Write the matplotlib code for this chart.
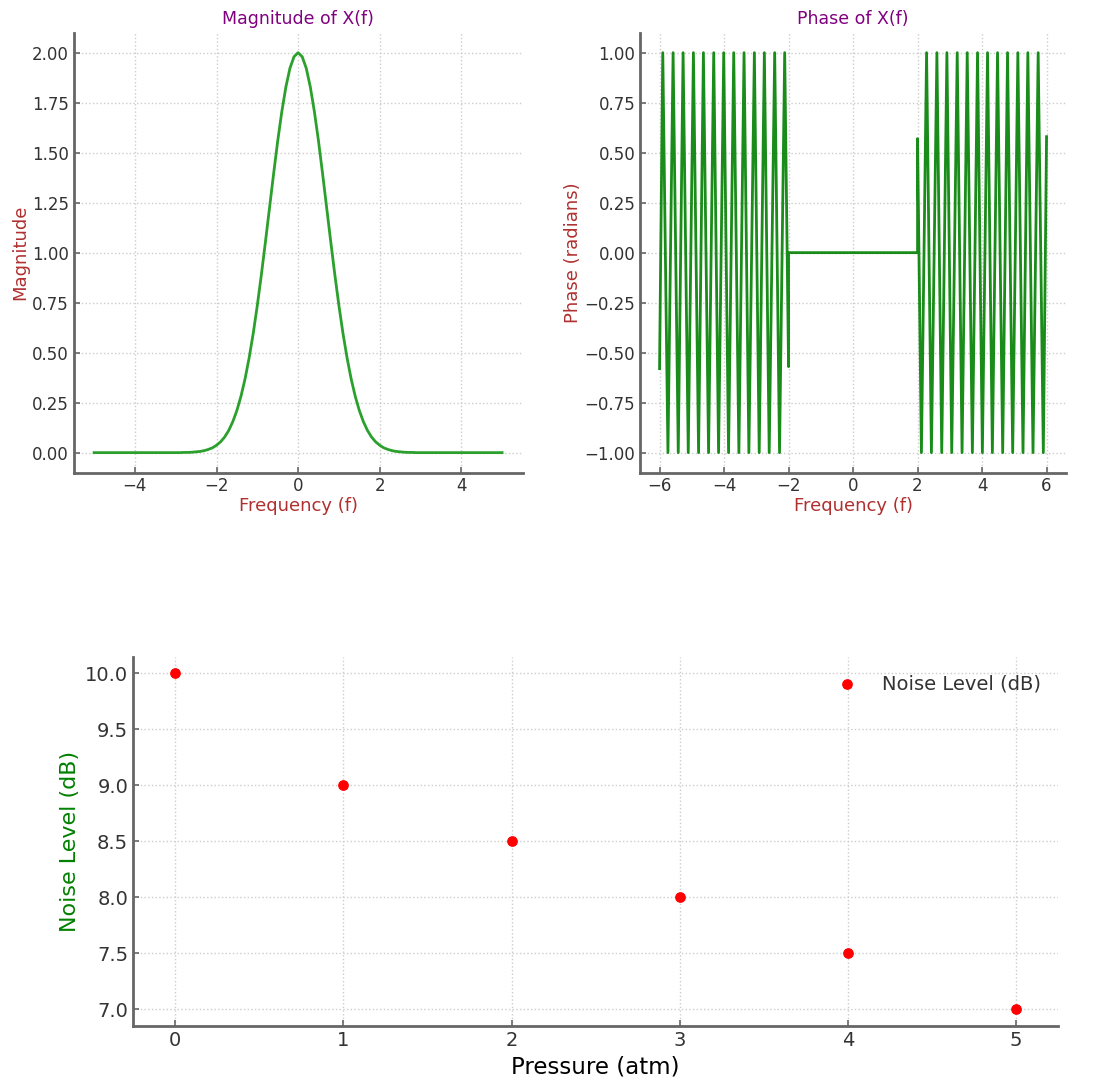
import matplotlib.pyplot as plt

# magnitude |X(f)|
mag_f = [-5.0, -4.0, -3.0, -2.9, -2.8, -2.7, -2.6, -2.5, -2.4, -2.3, -2.2, -2.1, -2.0,
         -1.9, -1.8, -1.7, -1.6, -1.5, -1.4, -1.3, -1.2, -1.1, -1.0,
         -0.9, -0.8, -0.7, -0.6, -0.5, -0.4, -0.3, -0.2, -0.1, 0.0,
         0.1, 0.2, 0.3, 0.4, 0.5, 0.6, 0.7, 0.8, 0.9, 1.0,
         1.1, 1.2, 1.3, 1.4, 1.5, 1.6, 1.7, 1.8, 1.9, 2.0,
         2.1, 2.2, 2.3, 2.4, 2.5, 2.6, 2.7, 2.8, 2.9, 3.0, 4.0, 5.0]
mag_v = [0.0, 0.0, 0.0, 0.0, 0.001, 0.001, 0.002, 0.004, 0.006, 0.010, 0.016, 0.024, 0.037,
         0.054, 0.078, 0.111, 0.155, 0.211, 0.282, 0.369, 0.474, 0.596, 0.736,
         0.890, 1.055, 1.225, 1.395, 1.558, 1.704, 1.828, 1.922, 1.980, 2.000,
         1.980, 1.922, 1.828, 1.704, 1.558, 1.395, 1.225, 1.055, 0.890, 0.736,
         0.596, 0.474, 0.369, 0.282, 0.211, 0.155, 0.111, 0.078, 0.054, 0.037,
         0.024, 0.016, 0.010, 0.006, 0.004, 0.002, 0.001, 0.001, 0.0, 0.0, 0.0, 0.0]

# phase: turning points of the zig-zag
phase_f = [-6.00, -5.90, -5.74, -5.58, -5.42, -5.27, -5.11, -4.95, -4.79, -4.64, -4.48, -4.32, -4.17,
           -4.01, -3.86, -3.70, -3.54, -3.38, -3.23, -3.06, -2.91, -2.75, -2.60, -2.43, -2.28, -2.12,
           -2.00, -2.00, 2.00, 2.00,
           2.12, 2.28, 2.43, 2.60, 2.75, 2.91, 3.06, 3.23, 3.38, 3.54, 3.70, 3.86, 4.01, 4.17,
           4.32, 4.48, 4.64, 4.79, 4.95, 5.11, 5.27, 5.42, 5.58, 5.74, 5.90, 6.00]
phase_v = [-0.58, 1, -1, 1, -1, 1, -1, 1, -1, 1, -1, 1, -1,
           1, -1, 1, -1, 1, -1, 1, -1, 1, -1, 1, -1, 1,
           -0.57, 0, 0, 0.57,
           -1, 1, -1, 1, -1, 1, -1, 1, -1, 1, -1, 1, -1, 1,
           -1, 1, -1, 1, -1, 1, -1, 1, -1, 1, -1, 0.58]

pressure = [0, 1, 2, 3, 4, 5]
noise = [10.0, 9.0, 8.5, 8.0, 7.5, 7.0]


def style(ax, size):
    for s in ['top', 'right']:
        ax.spines[s].set_visible(False)
    for s in ['left', 'bottom']:
        ax.spines[s].set_color('#666666')
        ax.spines[s].set_linewidth(2)
    ax.tick_params(direction='in', colors='#666666', labelcolor='#333333',
                   labelsize=size, length=4, width=1.2)
    ax.grid(True, linestyle=':', color='#cccccc', linewidth=1)


fig = plt.figure(figsize=(11, 10.89), dpi=100)

ax1 = fig.add_axes([0.067, 0.566, 0.408, 0.404])
ax1.plot(mag_f, mag_v, color='#2ca02c', linewidth=2)
ax1.set_title('Magnitude of X(f)', color='purple', fontsize=12.5)
ax1.set_xlabel('Frequency (f)', color='#b03030', fontsize=13, labelpad=1)
ax1.set_ylabel('Magnitude', color='#b03030', fontsize=13, labelpad=2)
style(ax1, 12)

ax2 = fig.add_axes([0.582, 0.566, 0.387, 0.404])
ax2.plot(phase_f, phase_v, color='green', linewidth=2, alpha=0.9)
ax2.set_title('Phase of X(f)', color='purple', fontsize=12.5)
ax2.set_xlabel('Frequency (f)', color='#b03030', fontsize=13, labelpad=1)
ax2.set_ylabel('Phase (radians)', color='#b03030', fontsize=13, labelpad=2)
style(ax2, 12)

ax3 = fig.add_axes([0.121, 0.058, 0.841, 0.339])
ax3.scatter(pressure, noise, color='red', s=45, zorder=3, label='Noise Level (dB)')
ax3.set_xlabel('Pressure (atm)', color='black', fontsize=16.5)
ax3.set_ylabel('Noise Level (dB)', color='green', fontsize=16)
style(ax3, 14)
ax3.legend(loc='upper right', frameon=False, fontsize=14, labelcolor='#333333')

plt.savefig('out.png', dpi=100)
